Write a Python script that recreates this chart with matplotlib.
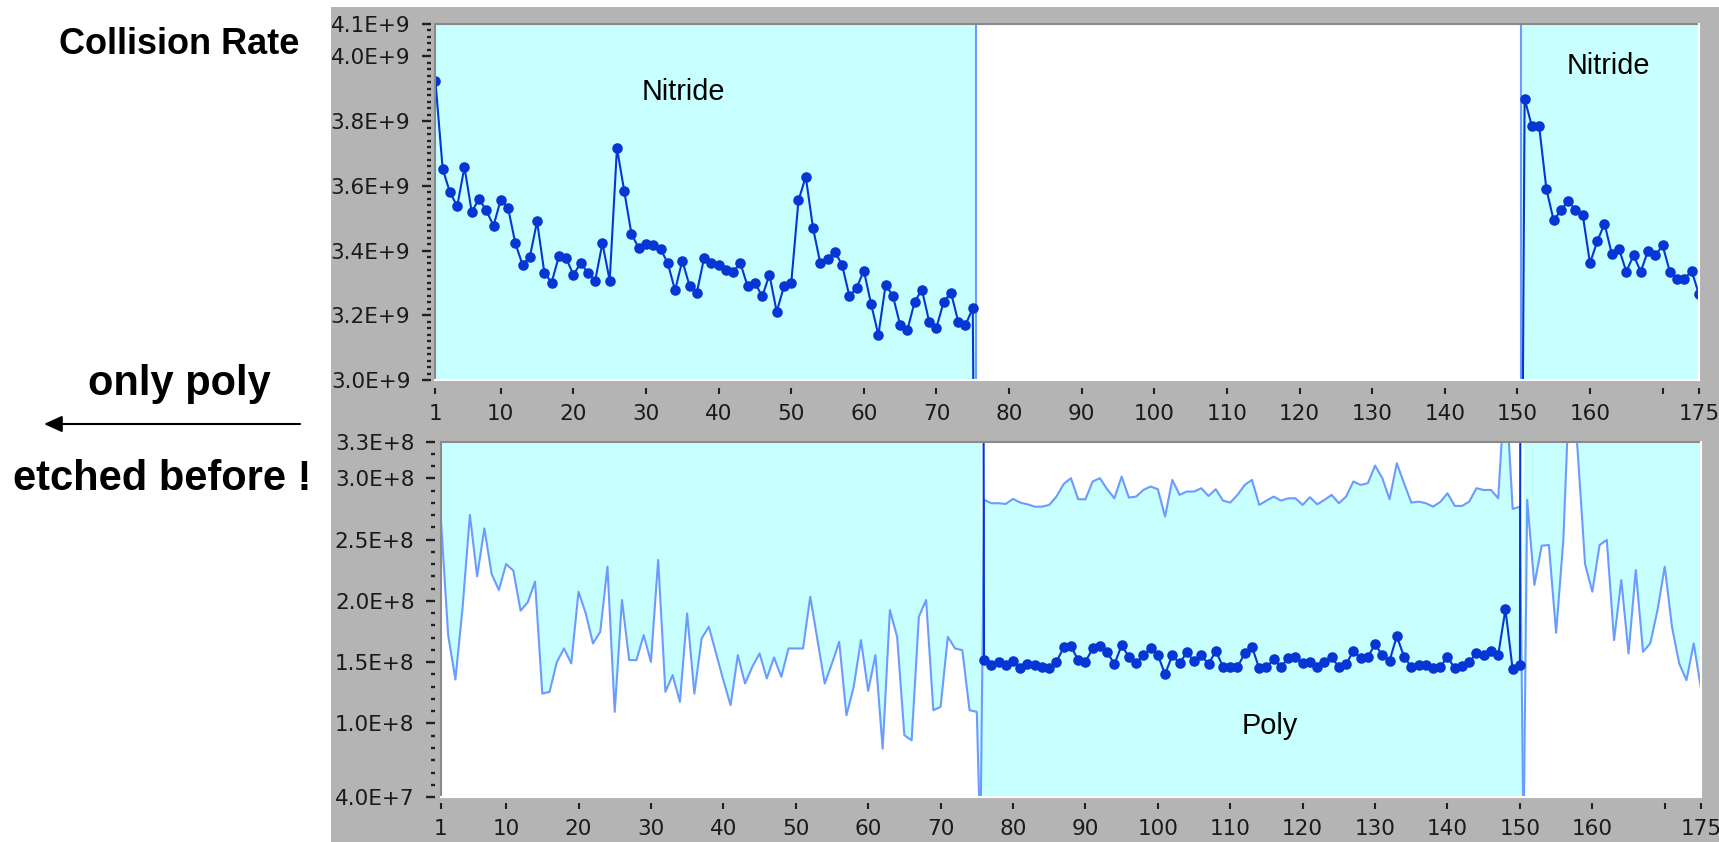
import numpy as np
import matplotlib
matplotlib.use("Agg")
import matplotlib.pyplot as plt
from matplotlib.lines import Line2D
from matplotlib.patches import Rectangle, FancyArrowPatch
from matplotlib.ticker import MultipleLocator

# --- datos ---
WAFERS = np.arange(1, 176)
REGIONS = [("Nitride", 1, 75), ("Poly", 76, 150), ("Nitride", 151, 175)]

# collision rate (puntos oscuros); nitride en E+9, poly en E+8
rate_nitride_a = [3.923, 3.652, 3.580, 3.537, 3.658, 3.519, 3.560, 3.524, 3.477, 3.557,
                  3.532, 3.423, 3.356, 3.380, 3.490, 3.332, 3.301, 3.382, 3.377, 3.325,
                  3.361, 3.332, 3.307, 3.423, 3.307, 3.717, 3.585, 3.451, 3.408, 3.420,
                  3.418, 3.405, 3.361, 3.277, 3.369, 3.291, 3.270, 3.377, 3.361, 3.356,
                  3.341, 3.335, 3.361, 3.289, 3.301, 3.258, 3.325, 3.211, 3.289, 3.299,
                  3.555, 3.628, 3.470, 3.361, 3.374, 3.397, 3.356, 3.260, 3.284, 3.338,
                  3.235, 3.139, 3.294, 3.260, 3.170, 3.155, 3.242, 3.279, 3.180, 3.162,
                  3.242, 3.270, 3.180, 3.170, 3.222]
rate_poly = [1.517, 1.476, 1.503, 1.476, 1.509, 1.449, 1.482, 1.476, 1.462, 1.449,
             1.503, 1.620, 1.631, 1.517, 1.503, 1.612, 1.633, 1.585, 1.482, 1.639,
             1.544, 1.495, 1.558, 1.612, 1.558, 1.402, 1.558, 1.490, 1.580, 1.509,
             1.558, 1.482, 1.593, 1.462, 1.462, 1.462, 1.571, 1.625, 1.449, 1.462,
             1.522, 1.462, 1.531, 1.539, 1.490, 1.503, 1.462, 1.503, 1.539, 1.462,
             1.482, 1.593, 1.531, 1.544, 1.645, 1.558, 1.511, 1.713, 1.544, 1.462,
             1.476, 1.476, 1.449, 1.462, 1.544, 1.449, 1.470, 1.503, 1.571, 1.558,
             1.593, 1.558, 1.931, 1.441, 1.476]
rate_nitride_b = [3.869, 3.784, 3.784, 3.590, 3.493, 3.524, 3.554, 3.526, 3.511, 3.361,
                  3.428, 3.483, 3.390, 3.405, 3.335, 3.385, 3.335, 3.400, 3.385, 3.416,
                  3.335, 3.312, 3.312, 3.338, 3.265]

# serie de referencia (linea clara, grafico inferior), en E+8
ref_nitride_a = [2.660, 1.720, 1.359, 1.950, 2.701, 2.200, 2.592, 2.220, 2.089, 2.301,
                 2.247, 1.920, 1.990, 2.157, 1.244, 1.258, 1.500, 1.612, 1.490, 2.075,
                 1.898, 1.653, 1.748, 2.279, 1.095, 2.007, 1.517, 1.517, 1.721, 1.503,
                 2.334, 1.258, 1.394, 1.176, 1.898, 1.244, 1.694, 1.789, 1.571, 1.353,
                 1.149, 1.558, 1.326, 1.462, 1.571, 1.367, 1.539, 1.381, 1.612, 1.612,
                 1.612, 2.034, 1.680, 1.326, 1.490, 1.666, 1.067, 1.299, 1.680, 1.266,
                 1.558, 0.795, 1.925, 1.707, 0.904, 0.863, 1.871, 2.007, 1.108, 1.136,
                 1.707, 1.612, 1.598, 1.108, 1.095]
ref_poly = [2.824, 2.797, 2.797, 2.791, 2.832, 2.802, 2.788, 2.769, 2.769, 2.783,
            2.851, 2.954, 3.001, 2.829, 2.829, 2.974, 3.001, 2.911, 2.837, 3.014,
            2.843, 2.851, 2.905, 2.933, 2.911, 2.688, 2.987, 2.865, 2.892, 2.892,
            2.919, 2.856, 2.911, 2.818, 2.802, 2.865, 2.946, 2.987, 2.783, 2.818,
            2.851, 2.818, 2.837, 2.837, 2.783, 2.846, 2.788, 2.824, 2.865, 2.797,
            2.851, 2.974, 2.946, 2.960, 3.104, 3.001, 2.829, 3.123, 2.960, 2.802,
            2.810, 2.797, 2.769, 2.807, 2.878, 2.775, 2.775, 2.810, 2.919, 2.905,
            2.905, 2.837, 3.800, 2.750, 2.769]
ref_nitride_b = [2.824, 2.130, 2.450, 2.456, 1.740, 2.500, 4.000, 3.200, 2.300, 2.075,
                 2.456, 2.497, 1.680, 2.170, 1.571, 2.252, 1.585, 1.653, 1.925, 2.279,
                 1.789, 1.489, 1.353, 1.653, 1.285]

X_TICKS = [1, 10, 20, 30, 40, 50, 60, 70, 80, 90, 100, 110, 120, 130, 140, 150, 160, 170, 175]
X_LABELS = ['1', '10', '20', '30', '40', '50', '60', '70', '80', '90', '100', '110',
            '120', '130', '140', '150', '160', '', '175']
TOP_YTICKS = [3.0e9, 3.2e9, 3.4e9, 3.6e9, 3.8e9, 4.0e9, 4.1e9]
TOP_YLABELS = ['3.0E+9', '3.2E+9', '3.4E+9', '3.6E+9', '3.8E+9', '4.0E+9', '4.1E+9']
BOT_YTICKS = [4.0e7, 1.0e8, 1.5e8, 2.0e8, 2.5e8, 3.0e8, 3.3e8]
BOT_YLABELS = ['4.0E+7', '1.0E+8', '1.5E+8', '2.0E+8', '2.5E+8', '3.0E+8', '3.3E+8']

# --- estilo ---
GRIS = '#b4b4b4'
CIAN = '#c8ffff'
AZUL_OSCURO = '#0636d4'
AZUL_CLARO = '#6b9bff'
BASE = 0.0

rate = np.concatenate([np.array(rate_nitride_a) * 1e9,
                       np.array(rate_poly) * 1e8,
                       np.array(rate_nitride_b) * 1e9])
ref = np.concatenate([ref_nitride_a, ref_poly, ref_nitride_b]) * 1e8


def estilo_ejes(ax, ylim, yticks, ylabels, minor_step, ygap, xgap):
    ax.set_xlim(1, 175)
    ax.set_ylim(*ylim)
    ax.set_facecolor('white')
    ax.set_xticks(X_TICKS)
    ax.set_xticklabels(X_LABELS)
    ax.set_yticks(yticks)
    ax.set_yticklabels(ylabels)
    ax.yaxis.set_minor_locator(MultipleLocator(minor_step))
    ax.spines['left'].set_position(('outward', ygap))
    ax.spines['bottom'].set_position(('outward', xgap))
    for s in ax.spines.values():
        s.set_visible(False)
    # marco "hundido" estilo windows
    for xs, ys, c in [([0, 1], [1, 1], '#8a8a8a'), ([0, 0], [0, 1], '#8a8a8a'),
                      ([0, 1], [0, 0], 'white'), ([1, 1], [0, 1], 'white')]:
        ax.add_line(Line2D(xs, ys, transform=ax.transAxes, color=c, lw=1.5,
                           clip_on=False, zorder=6))
    ax.tick_params(axis='x', which='major', direction='out', length=4.5, width=1.5,
                   pad=6.5, labelsize=15.5, color='#202020', labelcolor='#1a1a1a')
    ax.tick_params(axis='y', which='major', direction='out', length=6.5, width=1.7,
                   pad=8, labelsize=15.5, color='#202020', labelcolor='#1a1a1a')
    ax.tick_params(axis='y', which='minor', direction='out', length=3.2, width=1.7,
                   color='#202020')
    for lab in ax.get_xticklabels() + ax.get_yticklabels():
        lab.set_family('DejaVu Sans')


fig = plt.figure(figsize=(17.19, 8.42), dpi=100)
fig.add_artist(Rectangle((331 / 1719, 0), 1 - 331 / 1719, 1 - 7 / 842,
                         transform=fig.transFigure, facecolor=GRIS, edgecolor='none',
                         zorder=-5))

ax_top = fig.add_axes([0.2533, 0.5487, 0.7350, 0.4228])
ax_bot = fig.add_axes([0.2565, 0.0534, 0.7330, 0.4222])

# --- grafico superior: zonas nitride ---
for mat, ini, fin in REGIONS:
    if mat == 'Nitride':
        x0 = ini - 0.5 if ini > 1 else 1
        x1 = fin + 0.5 if fin < 175 else 175
        ax_top.axvspan(x0, x1, color=CIAN, lw=0, zorder=1)
for mat, ini, fin in REGIONS[1:]:
    ax_top.axvline(ini - 0.5, color=AZUL_CLARO, lw=1.5, zorder=2)

# --- grafico inferior: serie de referencia con relleno ---
ytop_bot = BOT_YTICKS[-1]
for mat, ini, fin in REGIONS:
    xs = list(WAFERS[ini - 1:fin])
    ys = list(ref[ini - 1:fin])
    if ini > 1:
        xs = [ini - 0.5] + xs
        ys = [BASE] + ys
    if fin < 175:
        xs = xs + [fin + 0.5]
        ys = ys + [BASE]
    if mat == 'Nitride':
        ax_bot.fill_between(xs, ys, ytop_bot, color=CIAN, lw=0, zorder=1)
    else:
        ax_bot.fill_between(xs, BASE, ys, color=CIAN, lw=0, zorder=1)
    ax_bot.plot(xs, ys, color=AZUL_CLARO, lw=1.5, zorder=2)

# serie principal en ambos graficos
for ax in (ax_top, ax_bot):
    ax.plot(WAFERS, rate, color=AZUL_OSCURO, lw=1.5, marker='o', ms=7.6,
            mfc=AZUL_OSCURO, mec=AZUL_OSCURO, mew=0, zorder=4)

estilo_ejes(ax_top, (TOP_YTICKS[0], TOP_YTICKS[-1]), TOP_YTICKS, TOP_YLABELS, 2e7, 3.5, 6)
estilo_ejes(ax_bot, (BOT_YTICKS[0], BOT_YTICKS[-1]), BOT_YTICKS, BOT_YLABELS, 1e7, 4.5, 4.5)

ax_top.text(35.2, 3.865e9, 'Nitride', ha='center', va='baseline',
            family='Liberation Sans', fontsize=20.8, zorder=7)
ax_top.text(162.5, 3.947e9, 'Nitride', ha='center', va='baseline',
            family='Liberation Sans', fontsize=20.8, zorder=7)
ax_bot.text(115.4, 0.918e8, 'Poly', ha='center', va='baseline',
            family='Liberation Sans', fontsize=20.8, zorder=7)

# --- anotaciones de la izquierda ---
fig.text(179.5 / 1719, 1 - 53.5 / 842, 'Collision Rate', ha='center', va='baseline',
         family='Liberation Sans', fontweight='bold', fontsize=26)
fig.text(179 / 1719, 1 - 395 / 842, 'only poly', ha='center', va='baseline',
         family='Liberation Sans', fontweight='bold', fontsize=30)
fig.text(162 / 1719, 1 - 490 / 842, 'etched before !', ha='center', va='baseline',
         family='Liberation Sans', fontweight='bold', fontsize=30)
fig.add_artist(FancyArrowPatch((300 / 1719, 1 - 424 / 842), (44 / 1719, 1 - 424 / 842),
                               transform=fig.transFigure, color='black', lw=1.5,
                               arrowstyle='-|>,head_length=11,head_width=5',
                               mutation_scale=1, shrinkA=0, shrinkB=0))

fig.savefig('out.png', dpi=100)
